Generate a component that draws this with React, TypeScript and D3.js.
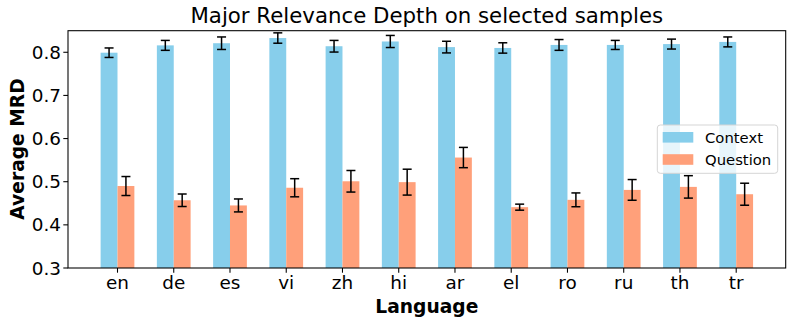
import React from "react";
import * as d3 from "d3";

const languages = ["en", "de", "es", "vi", "zh", "hi", "ar", "el", "ro", "ru", "th", "tr"];
const contextMean = [0.799, 0.816, 0.821, 0.833, 0.814, 0.825, 0.812, 0.810, 0.817, 0.817, 0.819, 0.824];
const contextErr = [0.011, 0.0115, 0.0145, 0.012, 0.0135, 0.014, 0.0135, 0.012, 0.0125, 0.0105, 0.0115, 0.0115];
const questionMean = [0.490, 0.457, 0.445, 0.486, 0.501, 0.499, 0.556, 0.441, 0.458, 0.481, 0.488, 0.471];
const questionErr = [0.022, 0.0145, 0.015, 0.021, 0.025, 0.030, 0.0235, 0.007, 0.016, 0.024, 0.026, 0.0255];
const yTicks = [0.3, 0.4, 0.5, 0.6, 0.7, 0.8];
const seriesNames = ["Context", "Question"];
const seriesColors = ["#87CEEB", "#FFA07A"];

const W = 793;
const H = 325;
const M = { left: 68, right: 785.7, top: 30.7, bottom: 268 };
const BAR_W = 0.3;
const FONT = "'DejaVu Sans', sans-serif";

export default function App() {
  const x = d3.scaleLinear().domain([-0.88, languages.length - 1 + 0.88]).range([M.left, M.right]);
  const y = d3.scaleLinear().domain([0.3, 0.85]).range([M.bottom, M.top]);
  const bw = x(BAR_W) - x(0);
  const capHalf = 4.5;

  const series = [
    { mean: contextMean, err: contextErr, offset: -BAR_W / 2 },
    { mean: questionMean, err: questionErr, offset: BAR_W / 2 },
  ];

  return (
    <svg
      width={W}
      height={H}
      style={{ position: "fixed", left: 0, top: 0, background: "#fff" }}
      fontFamily={FONT}
    >
      <rect x={0} y={0} width={W} height={H} fill="#fff" />
      {series.map((s, si) =>
        languages.map((_, i) => {
          const cx = x(i + s.offset);
          return (
            <rect
              key={`b${si}-${i}`}
              x={cx - bw / 2}
              y={y(s.mean[i])}
              width={bw}
              height={y(0.3) - y(s.mean[i])}
              fill={seriesColors[si]}
            />
          );
        })
      )}
      {series.map((s, si) =>
        languages.map((_, i) => {
          const cx = x(i + s.offset);
          const y1 = y(s.mean[i] + s.err[i]);
          const y2 = y(s.mean[i] - s.err[i]);
          return (
            <g key={`e${si}-${i}`} stroke="#000" strokeWidth={1.5} fill="none">
              <line x1={cx} x2={cx} y1={y1} y2={y2} />
              <line x1={cx - capHalf} x2={cx + capHalf} y1={y1} y2={y1} />
              <line x1={cx - capHalf} x2={cx + capHalf} y1={y2} y2={y2} />
            </g>
          );
        })
      )}
      {/* axes frame */}
      <rect
        x={M.left}
        y={M.top}
        width={M.right - M.left}
        height={M.bottom - M.top}
        fill="none"
        stroke="#000"
        strokeWidth={1.07}
      />
      {yTicks.map((t) => (
        <g key={`yt${t}`}>
          <line x1={M.left - 4.7} x2={M.left} y1={y(t)} y2={y(t)} stroke="#000" strokeWidth={1.07} />
          <text x={M.left - 7} y={y(t)} dy="0.36em" textAnchor="end" fontSize={18.4} fill="#000">
            {t.toFixed(1)}
          </text>
        </g>
      ))}
      {languages.map((l, i) => (
        <g key={`xt${l}`}>
          <line x1={x(i)} x2={x(i)} y1={M.bottom} y2={M.bottom + 4.7} stroke="#000" strokeWidth={1.07} />
          <text x={x(i)} y={288.5} textAnchor="middle" fontSize={18.4} fill="#000">
            {l}
          </text>
        </g>
      ))}
      <text x={(M.left + M.right) / 2} y={23} textAnchor="middle" fontSize={21.3} fill="#000">
        Major Relevance Depth on selected samples
      </text>
      <text x={(M.left + M.right) / 2} y={313} textAnchor="middle" fontSize={18.67} fontWeight="bold" fill="#000">
        Language
      </text>
      <text
        transform={`translate(24,149) rotate(-90)`}
        textAnchor="middle"
        fontSize={18.67}
        fontWeight="bold"
        fill="#000"
      >
        Average MRD
      </text>
      {/* legend */}
      <g>
        <rect x={657.3} y={125} width={120.4} height={48.3} rx={3} fill="#fff" fillOpacity={0.8} stroke="#d5d5d5" strokeWidth={1} />
        {seriesNames.map((n, i) => (
          <g key={n}>
            <rect x={662.7} y={132 + i * 22.2} width={30.6} height={10.6} fill={seriesColors[i]} />
            <text x={705} y={143 + i * 22.2} fontSize={14.8} fill="#000">
              {n}
            </text>
          </g>
        ))}
      </g>
    </svg>
  );
}
